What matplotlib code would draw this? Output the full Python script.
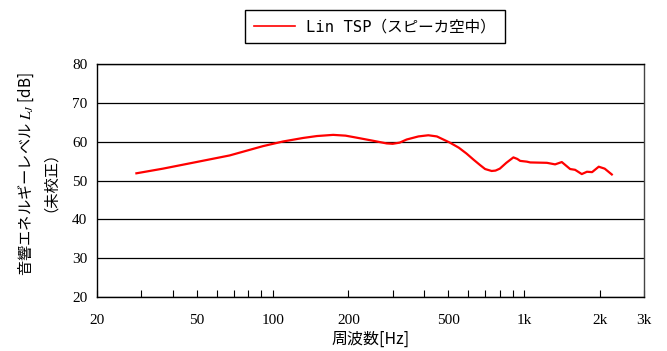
import matplotlib
matplotlib.use("Agg")
import matplotlib.pyplot as plt
from matplotlib.ticker import FixedLocator, NullFormatter

# frequency [Hz] and level [dB]
freq = [28.7, 36.6, 49.7, 67.4, 91.5, 110, 132, 150, 174, 195, 215, 250, 284,
        300, 320, 341, 380, 416, 450, 507, 550, 590, 630, 669, 700, 743, 770,
        801, 850, 907, 940, 965, 1026, 1058, 1233, 1329, 1413, 1525, 1596,
        1697, 1779, 1865, 1982, 2093, 2234]
level = [51.9, 53.1, 54.8, 56.5, 58.9, 60.1, 61.0, 61.5, 61.8, 61.6, 61.1, 60.3, 59.6,
         59.5, 59.8, 60.6, 61.4, 61.7, 61.4, 59.8, 58.5, 57.0, 55.4, 54.0, 53.0, 52.5, 52.6,
         53.1, 54.6, 56.0, 55.6, 55.1, 54.9, 54.7, 54.6, 54.2, 54.8, 53.0, 52.8,
         51.7, 52.3, 52.2, 53.6, 53.1, 51.6]

major_ticks = [20, 50, 100, 200, 500, 1000, 2000, 3000]
major_labels = ["20", "50", "100", "200", "500", "1k", "2k", "3k"]
minor_ticks = [30, 40, 60, 70, 80, 90, 300, 400, 600, 700, 800, 900]
y_ticks = [20, 30, 40, 50, 60, 70, 80]

plt.rcParams['mathtext.fontset'] = 'stix'

fig = plt.figure(figsize=(6.67, 3.51), dpi=100)
ax = fig.add_axes([0.1454, 0.1535, 0.8201, 0.6635])

line, = ax.plot(freq, level, color="#ff0000", lw=1.6)

ax.set_xscale("log")
ax.set_xlim(20, 3000)
ax.set_ylim(20, 80)

ax.xaxis.set_major_locator(FixedLocator(major_ticks))
ax.set_xticklabels(major_labels, fontfamily="Liberation Serif", fontsize=11)
ax.xaxis.set_minor_locator(FixedLocator(minor_ticks))
ax.xaxis.set_minor_formatter(NullFormatter())
ax.tick_params(axis="x", which="both", direction="in", length=5, width=0.8,
               pad=12, color="black")
ax.set_yticks(y_ticks)
ax.set_yticklabels([str(v) for v in y_ticks], fontfamily="Liberation Serif", fontsize=11)
ax.tick_params(axis="y", length=0, pad=7)

ax.grid(axis="y", color="black", lw=0.9)
for s in ax.spines.values():
    s.set_color("black")
    s.set_linewidth(1.0)
ax.spines["right"].set_color("#444444")

ax.set_xlabel("周波数[Hz]", fontfamily=["Noto Sans CJK JP"], fontsize=11.5)
ax.xaxis.set_label_coords(0.5, -0.145)
ax.set_ylabel("音響エネルギーレベル $L_J$ [dB]\n（未校正）",
              fontfamily=["Noto Sans CJK JP"], fontsize=11, linespacing=0.78)
ax.yaxis.set_label_coords(-0.085, 0.53)

leg = fig.legend([line], ["Lin TSP（スピーカ空中）"], loc="upper center",
                 bbox_to_anchor=(0.562, 0.972), fancybox=False, framealpha=1,
                 edgecolor="black", handlelength=2.6, handletextpad=0.7,
                 borderpad=0.6, borderaxespad=0,
                 prop={"family": ["DejaVu Sans Mono", "Noto Sans CJK JP"], "size": 11.2})
leg.get_frame().set_linewidth(1.0)
leg.legend_handles[0].set_linewidth(1.2)

fig.savefig("out.png", dpi=100)
